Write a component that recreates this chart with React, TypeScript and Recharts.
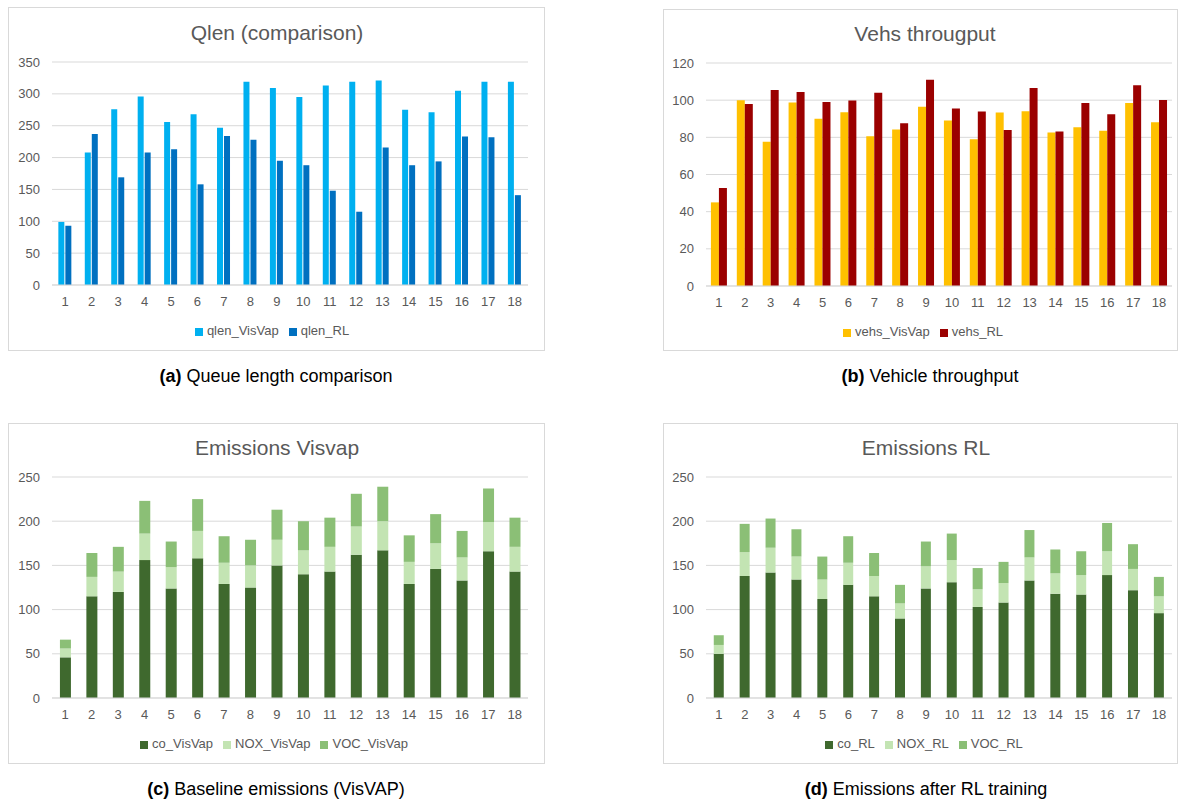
import React from 'react';
import { BarChart, Bar, XAxis, YAxis, CartesianGrid, Legend } from 'recharts';

const steps = ['1', '2', '3', '4', '5', '6', '7', '8', '9', '10', '11', '12', '13', '14', '15', '16', '17', '18'];

// (a) queue length
const qlenVisVap = [99, 208, 276, 296, 256, 268, 247, 319, 309, 295, 313, 319, 321, 275, 271, 305, 319, 319];
const qlenRL = [93, 237, 169, 208, 213, 158, 234, 228, 195, 188, 148, 115, 216, 188, 194, 233, 232, 141];
const qlenTicks = [0, 50, 100, 150, 200, 250, 300, 350];

// (b) throughput
const vehsVisVap = [45, 100, 77.6, 98.7, 90, 93.5, 80.6, 84.2, 96.5, 89, 79, 93.3, 94, 82.6, 85.4, 83.6, 98.5, 88.1];
const vehsRL = [52.8, 98, 105.5, 104.4, 99, 99.8, 104, 87.6, 111, 95.5, 93.9, 84, 106.6, 83.1, 98.5, 92.4, 108, 100.1];
const vehsTicks = [0, 20, 40, 60, 80, 100, 120];

// (c) emissions VisVAP (stacked)
const coVisVap = [46, 115, 120, 156, 124, 158, 129, 125, 150, 140, 143, 162, 167, 129, 146, 133, 166, 143];
const noxVisVap = [10, 22, 23, 30, 24, 31, 24, 25, 29, 27, 28, 32, 33, 25, 29, 26, 33, 28];
const vocVisVap = [10, 27, 28, 37, 29, 36, 30, 29, 34, 33, 33, 37, 39, 30, 33, 30, 38, 33];

// (d) emissions RL (stacked)
const coRL = [50, 138, 142, 134, 112, 128, 115, 90, 124, 131, 103, 108, 133, 118, 117, 139, 122, 96];
const noxRL = [10, 27, 28, 26, 22, 25, 23, 17, 25, 25, 20, 22, 26, 23, 22, 27, 24, 19];
const vocRL = [11, 32, 33, 31, 26, 30, 26, 21, 28, 30, 24, 24, 31, 27, 27, 32, 28, 22];
const emisTicks = [0, 50, 100, 150, 200, 250];

const qlenData = steps.map((s, i) => ({ step: s, qlen_VisVap: qlenVisVap[i], qlen_RL: qlenRL[i] }));
const vehsData = steps.map((s, i) => ({ step: s, vehs_VisVap: vehsVisVap[i], vehs_RL: vehsRL[i] }));
const emisVisData = steps.map((s, i) => ({ step: s, co_VisVap: coVisVap[i], NOX_VisVap: noxVisVap[i], VOC_VisVap: vocVisVap[i] }));
const emisRLData = steps.map((s, i) => ({ step: s, co_RL: coRL[i], NOX_RL: noxRL[i], VOC_RL: vocRL[i] }));

const FONT = '"Liberation Sans", Arial, Helvetica, sans-serif';
const TICK = { fill: '#595959', fontSize: 13 };
const GRID = '#d9d9d9';

const CO = '#3f692e';
const NOX = '#c3e4b3';
const VOC = '#8bbf76';

type Series = { key: string; color: string };

type PanelCfg = {
  left: number;
  top: number;
  width: number;
  height: number;
  title: string;
  titleX: number;
  titleY: number;
  legendX: number;
  data: any[];
  series: Series[];
  ticks: number[];
  stacked: boolean;
  gap: string;
  barGap: number;
  yWidth: number;
  margin: { top: number; right: number; bottom: number; left: number };
};

const legendText = (v: string) => <span style={{ color: '#595959' }}>{v}</span>;

function renderPanel(p: PanelCfg) {
  const cw = p.width - 2;
  const ch = p.height - 2;
  const legendW = 400;
  const order = p.series.map((s) => s.key);
  return (
    <div key={p.title}>
      <div
        style={{
          position: 'absolute',
          left: p.left,
          top: p.top,
          width: p.width,
          height: p.height,
          border: '1px solid #d9d9d9',
          boxSizing: 'border-box',
          background: '#fff',
        }}
      >
        <BarChart
          width={cw}
          height={ch}
          data={p.data}
          margin={p.margin}
          barCategoryGap={p.gap}
          barGap={p.barGap}
        >
          <CartesianGrid vertical={false} stroke={GRID} />
          <XAxis
            dataKey="step"
            tickLine={false}
            axisLine={{ stroke: GRID }}
            tick={TICK}
            tickMargin={6}
            interval={0}
            height={38}
          />
          <YAxis
            domain={[0, p.ticks[p.ticks.length - 1]]}
            ticks={p.ticks}
            axisLine={false}
            tickLine={false}
            tick={TICK}
            tickMargin={6}
            width={p.yWidth}
            interval={0}
          />
          <Legend
            verticalAlign="bottom"
            iconType="square"
            iconSize={8}
            formatter={legendText}
            itemSorter={(item: any) => order.indexOf(String(item.dataKey))}
            wrapperStyle={{ left: p.legendX - p.left - 1 - legendW / 2, width: legendW, fontSize: 13, lineHeight: '15px' }}
          />
          {p.series.map((s) => (
            <Bar
              key={s.key}
              dataKey={s.key}
              fill={s.color}
              stackId={p.stacked ? 'a' : undefined}
              isAnimationActive={false}
            />
          ))}
        </BarChart>
      </div>
      <div
        style={{
          position: 'absolute',
          left: p.titleX,
          top: p.titleY,
          transform: 'translate(-50%, -50%)',
          fontSize: 21,
          lineHeight: 1,
          color: '#595959',
          whiteSpace: 'nowrap',
        }}
      >
        {p.title}
      </div>
    </div>
  );
}

const Caption: React.FC<{ x: number; y: number; tag: string; text: string }> = ({ x, y, tag, text }) => (
  <div
    style={{
      position: 'absolute',
      left: x,
      top: y,
      transform: 'translate(-50%, -50%)',
      fontSize: 18,
      lineHeight: 1,
      color: '#000',
      whiteSpace: 'nowrap',
    }}
  >
    <b>({tag})</b> {text}
  </div>
);

const panels: PanelCfg[] = [
  {
    left: 8, top: 7, width: 537, height: 344,
    title: 'Qlen (comparison)', titleX: 277, titleY: 32, legendX: 277,
    data: qlenData,
    series: [{ key: 'qlen_VisVap', color: '#00b0f0' }, { key: 'qlen_RL', color: '#0070c0' }],
    ticks: qlenTicks, stacked: false, gap: '24%', barGap: 1, yWidth: 35,
    margin: { top: 54, right: 16, bottom: 12, left: 8 },
  },
  {
    left: 663, top: 9, width: 515, height: 342,
    title: 'Vehs througput', titleX: 925, titleY: 33, legendX: 928,
    data: vehsData,
    series: [{ key: 'vehs_VisVap', color: '#ffc000' }, { key: 'vehs_RL', color: '#9b0000' }],
    ticks: vehsTicks, stacked: false, gap: '19%', barGap: 0, yWidth: 30,
    margin: { top: 53, right: 5, bottom: 11, left: 12 },
  },
  {
    left: 8, top: 423, width: 537, height: 341,
    title: 'Emissions Visvap', titleX: 277, titleY: 447, legendX: 279,
    data: emisVisData,
    series: [{ key: 'co_VisVap', color: CO }, { key: 'NOX_VisVap', color: NOX }, { key: 'VOC_VisVap', color: VOC }],
    ticks: emisTicks, stacked: true, gap: '30%', barGap: 0, yWidth: 35,
    margin: { top: 53, right: 16, bottom: 12, left: 8 },
  },
  {
    left: 663, top: 423, width: 515, height: 341,
    title: 'Emissions RL', titleX: 926, titleY: 447, legendX: 929,
    data: emisRLData,
    series: [{ key: 'co_RL', color: CO }, { key: 'NOX_RL', color: NOX }, { key: 'VOC_RL', color: VOC }],
    ticks: emisTicks, stacked: true, gap: '30%', barGap: 0, yWidth: 30,
    margin: { top: 53, right: 5, bottom: 12, left: 12 },
  },
];

export default function App() {
  return (
    <div
      style={{
        position: 'absolute',
        left: 0,
        top: 0,
        width: 1194,
        height: 803,
        background: '#fff',
        fontFamily: FONT,
        overflow: 'hidden',
      }}
    >
      {panels.map(renderPanel)}
      <Caption x={276} y={376} tag="a" text="Queue length comparison" />
      <Caption x={930} y={376} tag="b" text="Vehicle throughput" />
      <Caption x={276} y={789} tag="c" text="Baseline emissions (VisVAP)" />
      <Caption x={926} y={789} tag="d" text="Emissions after RL training" />
    </div>
  );
}
